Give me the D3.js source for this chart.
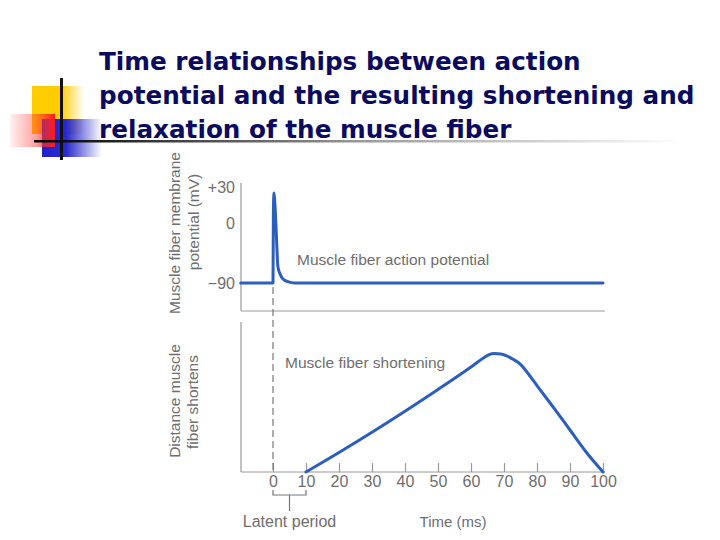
<!DOCTYPE html>
<html>
<head>
<meta charset="utf-8">
<script src="https://cdn.jsdelivr.net/npm/d3@7"></script>
<style>
  html, body { margin: 0; padding: 0; background: #fff; }
  svg { display: block; }
</style>
</head>
<body>
<svg id="chart" width="720" height="540"></svg>
<script>
// ---- Data ----
const titleLines = [
  "Time relationships between action",
  "potential and the resulting shortening and",
  "relaxation of the muscle fiber"
];
const timeTicks = [0, 10, 20, 30, 40, 50, 60, 70, 80, 90, 100];
const potentialTicks = [30, 0, -90];
// action potential: time (ms), membrane potential (mV)
const apTime = [-9.8, 0, 0.12, 0.3, 0.55, 0.95, 1.5, 2.2, 3, 4.5, 6.5, 100];
const apMV   = [-90, -90, 10, 25, 17, -10, -66, -77, -84, -88, -90, -90];
// shortening: time (ms), distance (arbitrary units)
const shTime = [10, 20, 30, 40, 50, 60, 64, 65.5, 67, 69, 71, 73, 75, 77, 80, 85, 90, 95, 100];
const shDist = [0, 13, 26.5, 40.5, 55, 70, 76.3, 78.2, 79, 78.6, 77.2, 74.8, 71.8, 66.5, 57.6, 43, 28, 13, 0];

const svg = d3.select("#chart");
const defs = svg.append("defs");
const font = "'Liberation Sans', Arial, sans-serif";
const textColor = "#6e6e6e";
const axisColor = "#9a9a9a";
const lineColor = "#2b5ebd";

// ---- Decorative logo ----
function hGrad(id, stops) {
  const g = defs.append("linearGradient").attr("id", id)
    .attr("x1", "0%").attr("x2", "100%").attr("y1", "0%").attr("y2", "0%");
  stops.forEach(s => g.append("stop").attr("offset", s[0]).attr("stop-color", s[1]).attr("stop-opacity", s[2] == null ? 1 : s[2]));
}
hGrad("gYellow", [[0, "#ffcc00"], [0.55, "#ffcc00"], [1, "#ffcc00", 0]]);
hGrad("gBlue", [[0, "#2222cc"], [0.4, "#2828cc"], [1, "#2828cc", 0]]);
hGrad("gRed", [[0, "#ff2a2a", 0.06], [0.55, "#ff3b3b", 0.45], [1, "#ff1a1a"]]);
hGrad("gRule", [[0, "#000"], [0.12, "#222"], [0.5, "#999"], [1, "#fff"]]);

const logo = svg.append("g");
logo.append("rect").attr("x", 32).attr("y", 86).attr("width", 52).attr("height", 48).attr("fill", "url(#gYellow)");
logo.append("rect").attr("x", 42).attr("y", 119).attr("width", 60).attr("height", 38).attr("fill", "url(#gBlue)");
logo.append("rect").attr("x", 10).attr("y", 114).attr("width", 45).attr("height", 33).attr("fill", "url(#gRed)");
logo.append("rect").attr("x", 60).attr("y", 78).attr("width", 3).attr("height", 82).attr("fill", "#111");
logo.append("rect").attr("x", 34).attr("y", 140).attr("width", 650).attr("height", 2.5).attr("fill", "url(#gRule)");

// ---- Title ----
svg.append("g").selectAll("text").data(titleLines).join("text")
  .attr("x", 99).attr("y", (d, i) => 70 + i * 34)
  .attr("font-family", "'DejaVu Sans', Verdana, sans-serif")
  .attr("font-weight", "bold").attr("font-size", 24.7)
  .attr("fill", "#0a0a5e")
  .text(d => d);

// ---- Scales ----
const x = d3.scaleLinear().domain([0, 100]).range([273, 603]);
const yTop = d3.scaleLinear().domain([-90, 0, 30]).range([283, 223, 187]);
const yBot = d3.scaleLinear().domain([0, 100]).range([472, 322]);

const axisLeftX = 241, axisRightX = 605;

// ---- Frame lines ----
const frame = svg.append("g").attr("stroke", axisColor).attr("stroke-width", 1.2);
frame.append("line").attr("x1", axisLeftX).attr("x2", axisLeftX).attr("y1", 183).attr("y2", 311);
frame.append("line").attr("x1", axisLeftX).attr("x2", axisRightX).attr("y1", 311).attr("y2", 311);
frame.append("line").attr("x1", axisLeftX).attr("x2", axisLeftX).attr("y1", 322).attr("y2", 472);
frame.append("line").attr("x1", axisLeftX).attr("x2", axisRightX).attr("y1", 472).attr("y2", 472);

// ---- Top y axis labels ----
const yAxis = d3.axisLeft(yTop).tickValues(potentialTicks)
  .tickFormat(d => d > 0 ? "+" + d : d < 0 ? "\u2212" + (-d) : "0")
  .tickSize(0).tickPadding(6);
const gy = svg.append("g").attr("transform", `translate(${axisLeftX},0)`).call(yAxis);
gy.select(".domain").remove();
gy.selectAll("text").attr("font-family", font).attr("font-size", 16).attr("fill", textColor);

// ---- Bottom x axis ----
const xAxis = d3.axisBottom(x).tickValues(timeTicks).tickFormat(d => d)
  .tickSizeInner(-9).tickSizeOuter(0).tickPadding(4);
const gx = svg.append("g").attr("transform", "translate(0,472)").call(xAxis);
gx.select(".domain").remove();
gx.selectAll(".tick line").attr("stroke", axisColor).attr("stroke-width", 1.2);
gx.selectAll("text").attr("font-family", font).attr("font-size", 16).attr("fill", textColor);

// ---- Dashed stimulus line ----
svg.append("line")
  .attr("x1", x(0)).attr("x2", x(0)).attr("y1", 287).attr("y2", 472)
  .attr("stroke", "#777").attr("stroke-width", 1.2).attr("stroke-dasharray", "7,4");

// ---- Latent period bracket ----
const br = svg.append("g").attr("stroke", "#777").attr("stroke-width", 1.2).attr("fill", "none");
br.append("path").attr("d", `M${x(0)},490 V495 H${x(10)} V490`);
br.append("line").attr("x1", (x(0) + x(10)) / 2).attr("x2", (x(0) + x(10)) / 2).attr("y1", 495).attr("y2", 511);

// ---- Curves ----
const apData = apTime.map((t, i) => ({ t, v: apMV[i] }));
const shData = shTime.map((t, i) => ({ t, v: shDist[i] }));

const apLine = d3.line().x(d => x(d.t)).y(d => yTop(d.v)).curve(d3.curveMonotoneX);
const shLine = d3.line().x(d => x(d.t)).y(d => yBot(d.v)).curve(d3.curveMonotoneX);

svg.append("path").datum(apData)
  .attr("d", apLine)
  .attr("fill", "none").attr("stroke", lineColor).attr("stroke-width", 3)
  .attr("stroke-linejoin", "round").attr("stroke-linecap", "round");

svg.append("path").datum(shData)
  .attr("d", shLine)
  .attr("fill", "none").attr("stroke", lineColor).attr("stroke-width", 3)
  .attr("stroke-linejoin", "round").attr("stroke-linecap", "round");

// ---- Annotations ----
const ann = svg.append("g").attr("font-family", font).attr("fill", textColor).attr("font-size", 15.5);
ann.append("text").attr("x", 297).attr("y", 265).text("Muscle fiber action potential");
ann.append("text").attr("x", 285).attr("y", 368).text("Muscle fiber shortening");
ann.append("text").attr("x", (x(0) + x(10)) / 2).attr("y", 527).attr("text-anchor", "middle").attr("font-size", 16).text("Latent period");
ann.append("text").attr("x", 453).attr("y", 527).attr("text-anchor", "middle").attr("font-size", 15).text("Time (ms)");

// ---- Y axis titles (rotated) ----
function vText(cx, cy, s) {
  ann.append("text").attr("transform", `translate(${cx},${cy}) rotate(-90)`)
    .attr("text-anchor", "middle").attr("dy", "0.35em").text(s);
}
vText(175, 233, "Muscle fiber membrane");
vText(194, 222, "potential (mV)");
vText(175, 401, "Distance muscle");
vText(193, 402, "fiber shortens");
</script>
</body>
</html>
